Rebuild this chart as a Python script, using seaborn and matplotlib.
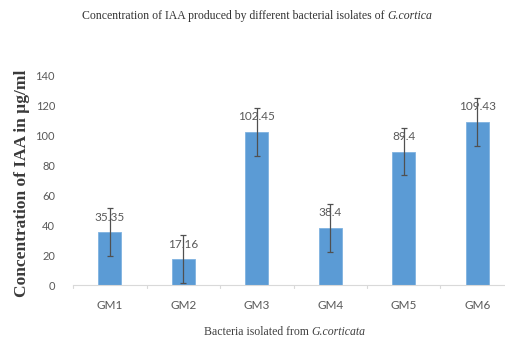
import matplotlib
matplotlib.use("Agg")
import matplotlib.pyplot as plt
import seaborn as sns
import pandas as pd
import numpy as np

# IAA concentration per bacterial isolate (µg/ml) and its error
isolates = ["GM1", "GM2", "GM3", "GM4", "GM5", "GM6"]
iaa_values = [35.35, 17.16, 102.45, 38.4, 89.4, 109.43]
iaa_errors = [16, 16, 16, 16, 16, 16]
y_ticks = [0, 20, 40, 60, 80, 100, 120, 140]

df = pd.DataFrame({"isolate": isolates, "iaa": iaa_values})

sns.set_theme(style="white")
plt.rcParams["font.family"] = ["DejaVu Sans"]

W, H, DPI = 505, 343, 100
fig = plt.figure(figsize=(W / DPI, H / DPI), dpi=DPI)

# axes placement in pixels: left, bottom, right, top
left_px, right_px, top_px, bottom_px = 73, 505, 76, 285
ax = fig.add_axes([left_px / W, 1 - bottom_px / H,
                   (right_px - left_px) / W, (bottom_px - top_px) / H])

bar_color = "#5B9BD5"
sns.barplot(data=df, x="isolate", y="iaa", ax=ax, color=bar_color,
            width=0.31, saturation=1, edgecolor="#7FB2E0", linewidth=0.6,
            errorbar=None)

x = np.arange(len(isolates))
ax.errorbar(x, iaa_values, yerr=iaa_errors, fmt="none", ecolor="#505050",
            elinewidth=0.9, capsize=2.5, capthick=0.9)

for xi, v in zip(x, iaa_values):
    ax.annotate(f"{v:g}", (xi, v), xytext=(0, 7), textcoords="offset points",
                ha="center", va="bottom", fontsize=8.5, color="#595959",
                family="Lato")

band = 73.5
ax.set_xlim(-0.5, -0.5 + (right_px - left_px) / band)
ax.set_ylim(0, 140)
ax.set_yticks(y_ticks)
ax.set_yticklabels([str(t) for t in y_ticks], fontsize=8, color="#595959",
                   family="Lato")
ax.set_xticks(x)
ax.set_xticklabels(isolates, fontsize=8.5, color="#595959", family="Lato")
ax.tick_params(axis="x", length=0, pad=11)
ax.tick_params(axis="y", length=0, pad=13)

# category separator ticks on the baseline
for b in np.arange(-0.5, 5.6, 1.0):
    ax.plot([b, b], [0, -2.2], color="#D9D9D9", lw=0.8, clip_on=False)

for s in ["top", "right", "left"]:
    ax.spines[s].set_visible(False)
ax.spines["bottom"].set_color("#D9D9D9")
ax.spines["bottom"].set_linewidth(0.8)

ax.set_xlabel("")
ax.set_ylabel("")

serif = ["Liberation Serif", "DejaVu Serif"]
renderer = fig.canvas.get_renderer()


def mixed_text(cx, cy, plain, italic, size, color, gap=2.5):
    """Centre a plain + italic pair of strings on (cx, cy) in pixels."""
    t1 = fig.text(0, 0, plain, fontsize=size, color=color, family=serif,
                  va="center", ha="left")
    t2 = fig.text(0, 0, italic, fontsize=size, color=color, family=serif,
                  style="italic", va="center", ha="left")
    w1 = t1.get_window_extent(renderer).width
    w2 = t2.get_window_extent(renderer).width
    x0 = cx - (w1 + gap + w2) / 2
    t1.set_position((x0 / W, 1 - cy / H))
    t2.set_position(((x0 + w1 + gap) / W, 1 - cy / H))


mixed_text(257, 16,
           "Concentration of IAA produced by different bacterial isolates of",
           "G.cortica", 8.5, "#333333")
mixed_text(285, 332, "Bacteria isolated from", "G.corticata", 8.5, "#404040")

fig.text(22 / W, 1 - 183 / H, "Concentration of IAA in µg/ml",
         rotation=90, ha="center", va="center", fontsize=12.5,
         fontweight="bold", color="#3a3a3a", family=serif)

fig.savefig("out.png", dpi=DPI, facecolor="white")
